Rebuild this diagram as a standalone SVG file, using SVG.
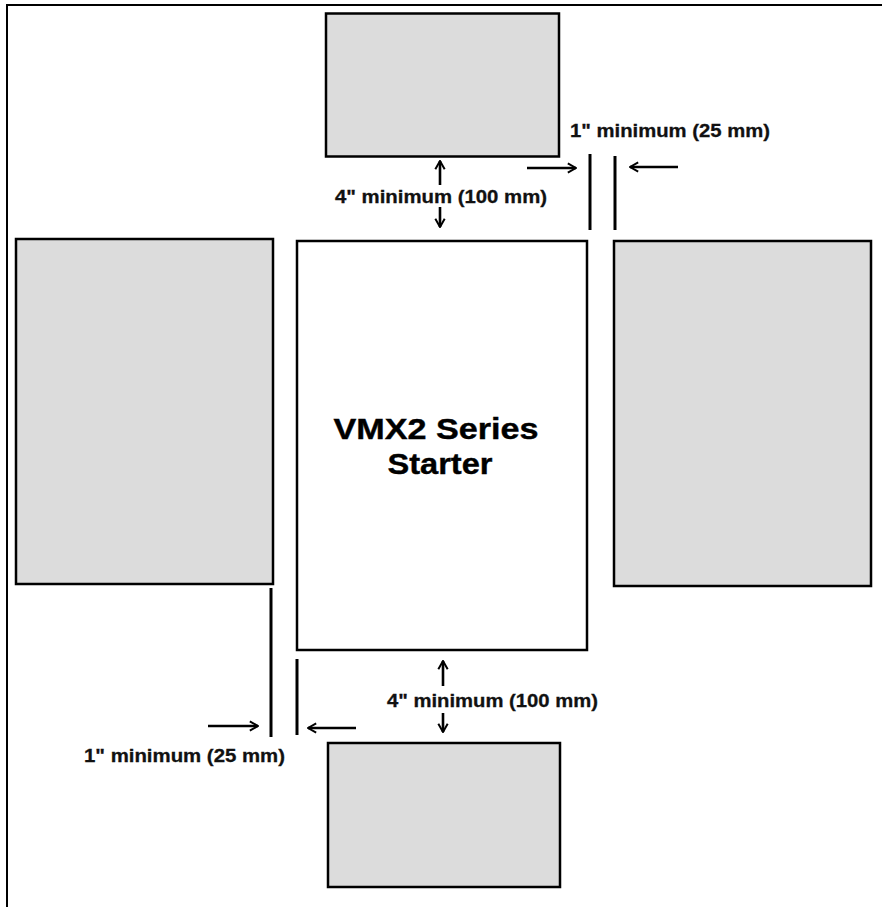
<svg xmlns="http://www.w3.org/2000/svg" width="882" height="907" viewBox="0 0 882 907">
<style>
.box{fill:#dcdcdc;stroke:#000;stroke-width:2.5}
.main{fill:#fff;stroke:#000;stroke-width:2.5}
.gap{stroke:#000;stroke-width:3;fill:none}
.arr{stroke:#000;stroke-width:2.6;fill:none;marker-end:url(#ah)}
.lbl{font-family:"Liberation Sans",Arial,sans-serif;font-weight:bold;font-size:18.5px;fill:#111;stroke:#111;stroke-width:0.3}
.title{font-family:"Liberation Sans",Arial,sans-serif;font-weight:bold;font-size:29px;fill:#000;text-anchor:middle;stroke:#000;stroke-width:0.4}
</style>
<defs>
<marker id="ah" viewBox="0 0 10 10" refX="9" refY="5" markerWidth="4.5" markerHeight="4.5" orient="auto" markerUnits="strokeWidth">
<path d="M2,1 L9,5 L2,9" fill="none" stroke="#000" stroke-width="1.7"/>
</marker>
</defs>
<rect width="882" height="907" fill="#fff"/>
<g id="border"><path d="M7,907 V5 H882" fill="none" stroke="#000" stroke-width="2"/></g>
<g id="top-box"><rect class="box" x="326" y="13.5" width="233" height="143"/></g>
<g id="left-box"><rect class="box" x="16" y="239" width="257" height="345"/></g>
<g id="right-box"><rect class="box" x="614" y="241" width="257" height="345"/></g>
<g id="bottom-box"><rect class="box" x="328" y="743" width="232" height="144"/></g>
<g id="starter"><rect class="main" x="297" y="241" width="290" height="409"/>
<text class="title" x="436" y="439" textLength="205" lengthAdjust="spacingAndGlyphs">VMX2 Series</text>
<text class="title" x="440" y="474" textLength="105" lengthAdjust="spacingAndGlyphs">Starter</text></g>
<g id="connectors">
<line class="gap" x1="590" y1="154" x2="590" y2="230"/>
<line class="gap" x1="615" y1="156" x2="615" y2="230"/>
<line class="arr" x1="527" y1="168" x2="576" y2="168"/>
<line class="arr" x1="678" y1="167" x2="630" y2="167"/>
<line class="arr" x1="440" y1="185" x2="440" y2="161"/>
<line class="arr" x1="440" y1="207" x2="440" y2="227"/>
<line class="gap" x1="271" y1="588" x2="271" y2="737"/>
<line class="gap" x1="297" y1="659" x2="297" y2="735"/>
<line class="arr" x1="208" y1="726" x2="258" y2="726"/>
<line class="arr" x1="356" y1="728" x2="308" y2="728"/>
<line class="arr" x1="443" y1="686" x2="443" y2="661"/>
<line class="arr" x1="443" y1="713" x2="443" y2="732"/>
</g>
<g id="labels">
<text class="lbl" x="570" y="137" textLength="200" lengthAdjust="spacingAndGlyphs">1" minimum (25 mm)</text>
<text class="lbl" x="335" y="203" textLength="212" lengthAdjust="spacingAndGlyphs">4" minimum (100 mm)</text>
<text class="lbl" x="387" y="707" textLength="211" lengthAdjust="spacingAndGlyphs">4" minimum (100 mm)</text>
<text class="lbl" x="84" y="762" textLength="201" lengthAdjust="spacingAndGlyphs">1" minimum (25 mm)</text>
</g>
</svg>
